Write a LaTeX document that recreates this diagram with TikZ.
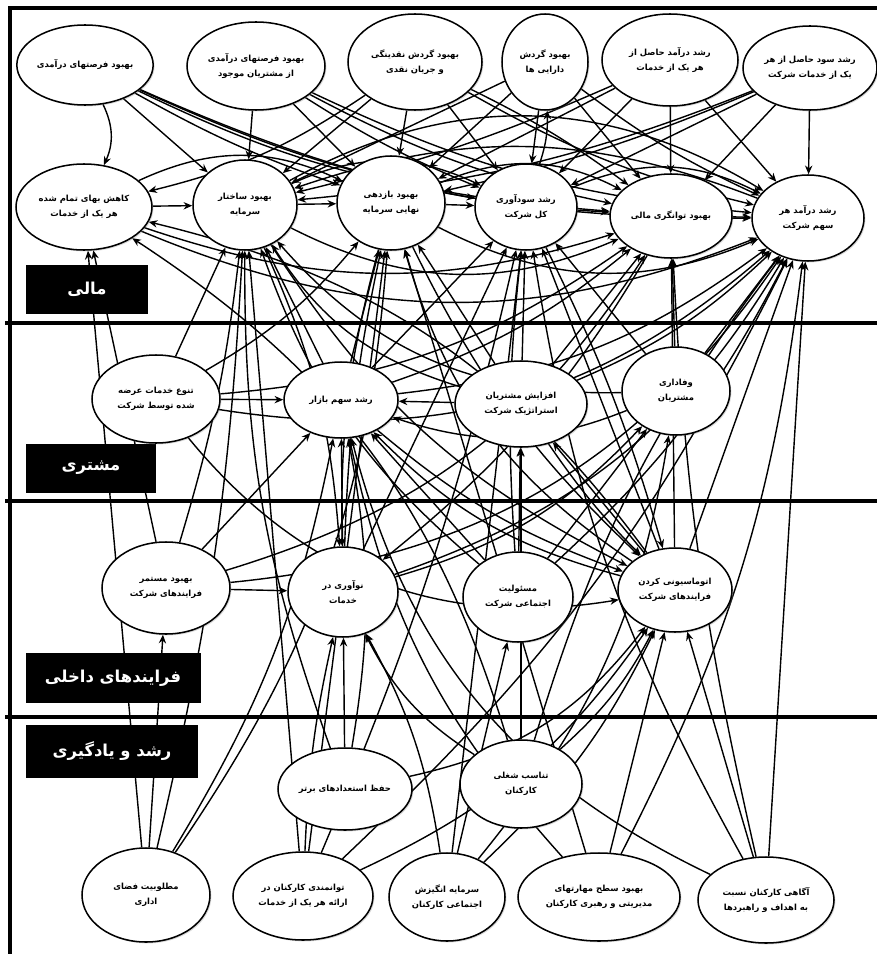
\documentclass[tikz,border=0pt]{standalone}
\usepackage{fontspec}
\newfontfamily\fafont[Script=Arabic]{DejaVu Sans}
\TeXXeTstate=1
\usetikzlibrary{arrows.meta,shapes.geometric,shadows}
\pgfdeclarelayer{bg}
\pgfsetlayers{bg,main}
\newcommand{\fatx}[1]{\beginR #1\endR}
\tikzset{
  ar/.style={-{Stealth[length=2.6mm,width=2.2mm]},line width=1.2pt,black},
  el/.style 2 args={ellipse,draw,line width=1.3pt,fill=white,inner sep=0pt,align=center,
    minimum width=#1*0.06cm,minimum height=#2*0.06cm,
    font=\fafont\bfseries\fontsize{7.2}{13}\selectfont,
    drop shadow={opacity=0.3,shadow xshift=1.2pt,shadow yshift=-1.2pt}},
  tag/.style 2 args={fill=black,inner sep=0pt,minimum width=#1*0.03cm,minimum height=#2*0.03cm,
    text=white,font=\fafont\bfseries\fontsize{14}{16}\selectfont},
  sep/.style={line width=2.6pt}
}
\begin{document}
\begin{tikzpicture}[x=0.03cm,y=-0.03cm]
\useasboundingbox (0,0) rectangle (877,954);
% frame and perspective rules
\draw[sep] (877,8)--(10,8)--(10,954);
\foreach \yy in {323,501,717} \draw[sep] (5,\yy)--(877,\yy);
% perspective tags
\node[tag={122}{49}] (tfin) at (87,289) {\fatx{مالی}};
\node[tag={130}{49}] (tcus) at (91,468) {\fatx{مشتری}};
\node[tag={175}{50}] (tpro) at (113,678) {\fatx{فرایندهای داخلی}};
\node[tag={172}{53}] (tgro) at (112,751) {\fatx{رشد و یادگیری}};
% financial
\node[el={68}{40}] (f1) at (85,65) {\fatx{بهبود فرصتهای درآمدی}};
\node[el={69}{44}] (f2) at (256,66) {\fatx{بهبود فرصتهای درآمدی}\\\fatx{از مشتریان موجود}};
\node[el={67}{48}] (f3) at (415,62) {\fatx{بهبود گردش نقدینگی}\\\fatx{و جریان نقدی}};
\node[el={43}{48}] (f4) at (545,62) {\fatx{بهبود گردش}\\\fatx{دارایی ها}};
\node[el={68}{46}] (f5) at (670,60) {\fatx{رشد درآمد حاصل از}\\\fatx{هر یک از خدمات}};
\node[el={67}{42}] (f6) at (810,68) {\fatx{رشد سود حاصل از هر}\\\fatx{یک از خدمات شرکت}};
\node[el={68}{43}] (f7) at (84,207) {\fatx{کاهش بهای تمام شده}\\\fatx{هر یک از خدمات}};
\node[el={52}{45}] (f8) at (245,205) {\fatx{بهبود ساختار}\\\fatx{سرمایه}};
\node[el={54}{47}] (f9) at (391,203) {\fatx{بهبود بازدهی}\\\fatx{نهایی سرمایه}};
\node[el={51}{43}] (f10) at (526,207) {\fatx{رشد سودآوری}\\\fatx{کل شرکت}};
\node[el={61}{42}] (f11) at (671,216) {\fatx{بهبود توانگری مالی}};
\node[el={56}{43}] (f12) at (808,218) {\fatx{رشد درآمد هر}\\\fatx{سهم شرکت}};
% customer
\node[el={64}{44}] (c1) at (156,399) {\fatx{تنوع خدمات عرضه}\\\fatx{شده توسط شرکت}};
\node[el={57}{38}] (c2) at (341,400) {\fatx{رشد سهم بازار}};
\node[el={66}{43}] (c3) at (521,404) {\fatx{افزایش مشتریان}\\\fatx{استراتژیک شرکت}};
\node[el={54}{44}] (c4) at (676,391) {\fatx{وفاداری}\\\fatx{مشتریان}};
% internal processes
\node[el={64}{46}] (p1) at (166,588) {\fatx{بهبود مستمر}\\\fatx{فرایندهای شرکت}};
\node[el={55}{45}] (p2) at (343,592) {\fatx{نوآوری در}\\\fatx{خدمات}};
\node[el={55}{45}] (p3) at (518,597) {\fatx{مسئولیت}\\\fatx{اجتماعی شرکت}};
\node[el={57}{42}] (p4) at (675,590) {\fatx{اتوماسیونی کردن}\\\fatx{فرایندهای شرکت}};
% growth and learning
\node[el={67}{41}] (g1) at (345,789) {\fatx{حفظ استعدادهای برتر}};
\node[el={61}{44}] (g2) at (521,784) {\fatx{تناسب شغلی}\\\fatx{کارکنان}};
\node[el={64}{47}] (g3) at (146,895) {\fatx{مطلوبیت فضای}\\\fatx{اداری}};
\node[el={70}{44}] (g4) at (303,896) {\fatx{توانمندی کارکنان در}\\\fatx{ارائه هر یک از خدمات}};
\node[el={58}{44}] (g5) at (447,897) {\fatx{سرمایه انگیزش}\\\fatx{اجتماعی کارکنان}};
\node[el={81}{44}] (g6) at (599,897) {\fatx{بهبود سطح مهارتهای}\\\fatx{مدیریتی و رهبری کارکنان}};
\node[el={68}{43}] (g7) at (766,900) {\fatx{آگاهی کارکنان نسبت}\\\fatx{به اهداف و راهبردها}};
% causal links
\begin{pgfonlayer}{bg}
\foreach \s/\t/\b in {
  f1/f8/0,f1/f9/-5,f1/f10/-8,f1/f11/-10,f1/f12/-12,f1/f7/25,
  f2/f8/0,f2/f9/0,f2/f10/-5,f2/f11/-8,f2/f12/-10,
  f3/f8/0,f3/f9/0,f3/f10/0,f3/f11/5,f3/f12/-8,f3/f7/10,
  f4/f8/0,f4/f9/0,f4/f10/0,f4/f11/0,f4/f12/-6,
  f5/f8/5,f5/f9/0,f5/f10/0,f5/f11/0,f5/f12/0,
  f6/f12/0,f6/f11/0,f6/f10/0,f6/f9/5,f6/f8/8,
  f7/f8/0,f8/f9/0,f9/f10/0,f10/f11/0,f11/f12/0,
  f8/f10/25,f9/f11/25,f10/f12/25,f8/f12/30,f7/f9/25,f9/f12/-25,f8/f11/-25,f10/f4/-10,
  f7/f12/-22,f7/f11/-18,f12/f8/-20}
  \draw[ar] (\s) to[bend left=\b] (\t);
\foreach \s/\t/\b in {
  c1/c2/0,c1/f8/0,c1/f9/-10,c1/f12/-25,c1/f11/-15,c2/f8/0,c2/f9/0,c2/f10/0,c2/f11/-10,c2/f12/-15,
  c3/f9/0,c3/f10/0,c3/f11/0,c3/f12/-10,c3/c2/0,c3/f8/20,c4/f10/0,c4/f11/0,c4/f12/0,c4/c2/20,c4/f8/25,
  p1/p2/0,p1/c2/0,p1/f7/0,p1/f8/-5,p1/f12/-25,p1/f11/-20,p2/c2/0,p2/f9/5,p2/f10/0,p2/f12/-20,p2/c4/-15,
  p3/c2/0,p3/c3/0,p3/c4/0,p3/f12/-10,p3/f10/5,p3/f8/15,
  p4/f10/0,p4/f11/0,p4/f12/0,p4/c2/15,p4/c3/0,p4/f7/-20,p4/f9/20,
  f8/p2/10,f9/p2/-8,f8/p4/-15,f9/p4/-10,c2/p4/-10,f10/p4/5,c3/p4/-5,f11/p2/10,c1/p4/-30}
  \draw[ar] (\s) to[bend left=\b] (\t);
\foreach \s/\t/\b in {
  g1/p2/0,g1/c2/-10,g1/p4/-20,g1/f8/10,g2/p2/15,g2/p4/-10,g2/f12/10,g2/c3/0,
  g3/f7/0,g3/f8/-5,g3/c2/-10,g3/p1/0,g3/f9/-15,g4/p2/5,g4/p4/-15,g4/f9/0,g4/f10/-5,g4/f8/0,
  g5/p2/-10,g5/p3/0,g5/p4/-10,g5/f10/0,g5/c4/-15,g6/p4/0,g6/c2/15,g6/f12/-10,g6/f9/0,
  g7/f12/0,g7/p4/0,g7/f11/5,g7/c2/25,g4/f12/-10,g7/f10/10,g2/f7/-20}
  \draw[ar] (\s) to[bend left=\b] (\t);
\end{pgfonlayer}
\end{tikzpicture}
\end{document}
